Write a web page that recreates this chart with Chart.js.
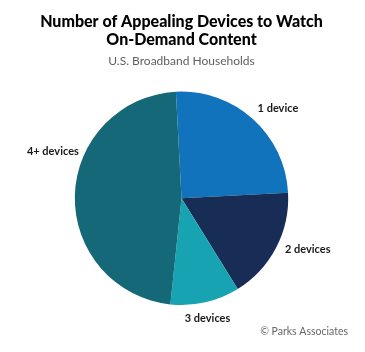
<!DOCTYPE html>
<html>
<head>
<meta charset="utf-8">
<script src="https://cdn.jsdelivr.net/npm/chart.js@4"></script>
<style>
    body { margin: 0; background: #fff; }
    #wrap { width: 365px; height: 352px; }
</style>
</head>
<body>
<div id="wrap"><canvas id="pita" width="365" height="352"></canvas></div>
<script>
const kategorije = ["1 device", "2 devices", "3 devices", "4+ devices"];
const udjeli = [25, 17, 10.5, 47.5];
const boje = ["#1173bc", "#172d55", "#17a3b1", "#156878"];
const naslov = ["Number of Appealing Devices to Watch", "On-Demand Content"];
const podnaslov = "U.S. Broadband Households";
const izvor = "\u00a9 Parks Associates";

// pomaci natpisa u odnosu na tacku izvan sredine luka (px)
const pomaciNatpisa = [[-2, -3], [0, -3], [0, 6], [14, -44]];

const natpisiPlugin = {
    id: 'natpisi',
    afterDatasetsDraw(chart) {
        let ctx = chart.ctx;
        let meta = chart.getDatasetMeta(0);
        ctx.save();
        ctx.font = "bold 11px Lato";
        ctx.fillStyle = "#1a1a1a";
        ctx.textBaseline = "middle";
        meta.data.forEach((arc, i) => {
            let ugao = (arc.startAngle + arc.endAngle) / 2;
            let d = arc.outerRadius + 10;
            let x = arc.x + Math.cos(ugao) * d + pomaciNatpisa[i][0];
            let y = arc.y + Math.sin(ugao) * d + pomaciNatpisa[i][1];
            let c = Math.cos(ugao);
            ctx.textAlign = Math.abs(c) < 0.3 ? "center" : (c > 0 ? "left" : "right");
            ctx.fillText(kategorije[i], x, y);
        });
        ctx.font = "10.5px Lato";
        ctx.fillStyle = "#666";
        ctx.textAlign = "right";
        ctx.fillText(izvor, chart.width - 17, chart.height - 20);
        ctx.restore();
    }
};

new Chart(document.getElementById("pita"), {
    type: 'pie',
    data: {
        labels: kategorije,
        datasets: [{
            data: udjeli,
            backgroundColor: boje,
            borderWidth: 0,
            hoverOffset: 0,
            offset: 0
        }]
    },
    options: {
        responsive: false,
        animation: false,
        rotation: -3,
        layout: {
            padding: { top: 0, bottom: 47, left: 0, right: 2 }
        },
        plugins: {
            legend: { display: false },
            tooltip: { enabled: false },
            title: {
                display: true,
                text: naslov,
                color: '#000',
                font: { family: 'Lato', size: 16, weight: 900, lineHeight: 1.1 },
                padding: { top: 13, bottom: 0 }
            },
            subtitle: {
                display: true,
                text: podnaslov,
                color: '#5f5f5f',
                font: { family: 'Lato', size: 12, lineHeight: 1.2 },
                padding: { top: 6, bottom: 23 }
            }
        }
    },
    plugins: [natpisiPlugin]
});
</script>
</body>
</html>
